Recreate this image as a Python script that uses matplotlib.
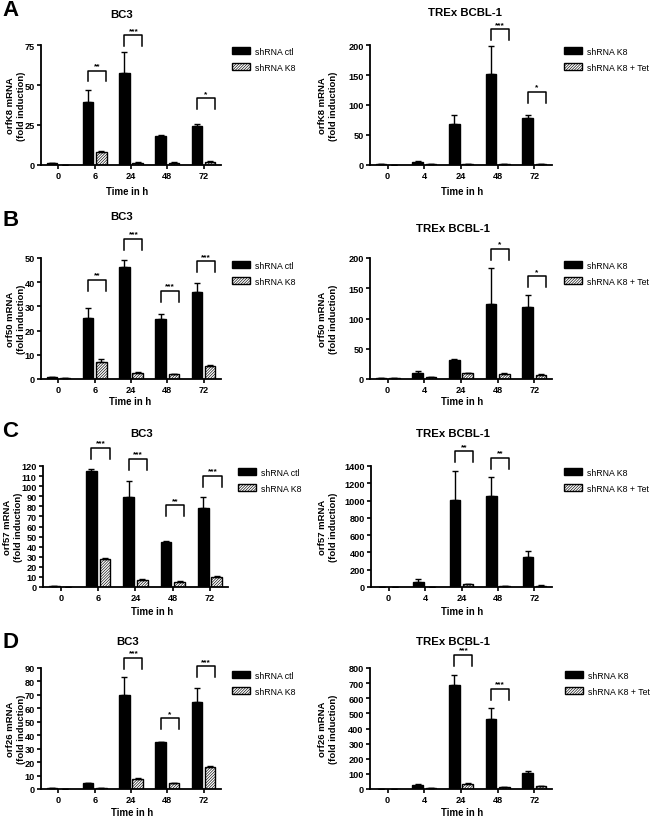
import numpy as np
import matplotlib.pyplot as plt

plt.rcParams['font.family'] = ['Liberation Sans', 'DejaVu Sans']
plt.rcParams['font.weight'] = 'bold'
plt.rcParams['hatch.linewidth'] = 0.45

bc3_times = ['0', '6', '24', '48', '72']
trex_times = ['0', '4', '24', '48', '72']

# A - orfK8
a_bc3_ctl = [1.2, 39.3, 57.3, 18.2, 24.6]
a_bc3_ctl_err = [0, 7.7, 13.5, 0.7, 1.0]
a_bc3_k8 = [0.3, 8.3, 1.5, 1.5, 2.0]
a_bc3_k8_err = [0, 0.4, 0.3, 0.3, 0.3]
a_bc3_sig = [(1, '**', 59), (2, '***', 81), (4, '*', 41.7)]

a_trex_k8 = [1.0, 5.5, 69, 152, 79]
a_trex_k8_err = [0, 0.5, 15, 47, 4]
a_trex_tet = [0.8, 1.0, 1.2, 1.0, 1.0]
a_trex_tet_err = [0, 0, 0, 0, 0]
a_trex_sig = [(3, '***', 226), (4, '*', 122)]

# B - orf50
b_bc3_ctl = [1.0, 25.1, 46.3, 24.6, 35.9]
b_bc3_ctl_err = [0, 4.2, 3.0, 2.4, 3.6]
b_bc3_k8 = [0.5, 7.2, 2.6, 2.0, 5.2]
b_bc3_k8_err = [0, 0.9, 0.3, 0.2, 0.7]
b_bc3_sig = [(1, '**', 41), (2, '***', 57.9), (3, '***', 36.5), (4, '***', 48.6)]

b_trex_k8 = [1.0, 10, 31, 124, 119]
b_trex_k8_err = [0, 4, 2, 59, 20]
b_trex_tet = [1.0, 3, 10, 9, 7]
b_trex_tet_err = [0, 0, 0.5, 0.5, 0.5]
b_trex_sig = [(3, '*', 215), (4, '*', 170)]

# C - orf57
c_bc3_ctl = [1.0, 115, 89, 44.3, 78.7]
c_bc3_ctl_err = [0, 2.4, 16, 1.0, 10.3]
c_bc3_k8 = [0.2, 27.8, 7.3, 5.3, 10]
c_bc3_k8_err = [0, 1.0, 0.6, 0.5, 0.6]
c_bc3_sig = [(1, '***', 138), (2, '***', 127), (3, '**', 81), (4, '***', 110)]

c_trex_k8 = [1, 58, 1008, 1058, 349]
c_trex_k8_err = [0, 32, 334, 214, 62]
c_trex_tet = [1, 5, 35, 10, 15]
c_trex_tet_err = [0, 0, 5, 2, 3]
c_trex_sig = [(2, '**', 1570), (3, '**', 1497)]

# D - orf26
d_bc3_ctl = [1.0, 4.2, 70.1, 34.8, 64.6]
d_bc3_ctl_err = [0, 0.3, 13.2, 0.2, 10.7]
d_bc3_k8 = [0.2, 1.0, 7.5, 4.5, 16.2]
d_bc3_k8_err = [0, 0, 0.7, 0.3, 1.2]
d_bc3_sig = [(2, '***', 97.5), (3, '*', 52.7), (4, '***', 91.2)]

d_trex_k8 = [1, 26, 685, 462, 108]
d_trex_k8_err = [0, 9, 71, 73, 14]
d_trex_tet = [1, 8, 33, 12, 20]
d_trex_tet_err = [0, 0, 9, 2, 3]
d_trex_sig = [(2, '***', 888), (3, '***', 663)]

fig = plt.figure(figsize=(6.56, 8.2), dpi=100)
W, H = 656, 820


def make_axes(x0, x1, ytop, ybot):
    return fig.add_axes([x0 / W, 1 - ybot / H, (x1 - x0) / W, (ybot - ytop) / H])


def panel(ax, times, a, a_err, b, b_err, sig, ymax, ystep, labels):
    x = np.arange(len(times))
    w = 0.29
    ax.bar(x - 0.18, a, w, color='black', edgecolor='black', linewidth=1, label=labels[0])
    ax.bar(x + 0.18, b, w, color='white', edgecolor='black', hatch='/' * 12,
           linewidth=1, label=labels[1])
    ax.errorbar(x - 0.18, a, yerr=[np.zeros(len(a)), a_err], fmt='none', ecolor='black',
                elinewidth=1, capsize=2.3, capthick=1)
    ax.errorbar(x + 0.18, b, yerr=[np.zeros(len(b)), b_err], fmt='none', ecolor='black',
                elinewidth=1, capsize=2.3, capthick=1)
    ax.set_xlim(-0.48, 4.48)
    ax.set_ylim(0, ymax)
    ax.set_yticks(np.arange(0, ymax + ystep / 2, ystep))
    ax.set_xticks(x)
    ax.set_xticklabels(times)
    ax.tick_params(labelsize=6.6, width=1.2, length=3, pad=1.5)
    for s in ['top', 'right']:
        ax.spines[s].set_visible(False)
    for s in ['left', 'bottom']:
        ax.spines[s].set_linewidth(1.3)
    leg_h = 0.09 * ymax
    for i, txt, top in sig:
        ax.plot([i - 0.18, i - 0.18, i + 0.31, i + 0.31], [top - leg_h, top, top, top - leg_h],
                color='black', lw=1.1, clip_on=False)
        ax.annotate(txt, (i + 0.065, top), xytext=(0, 1), textcoords='offset points',
                    ha='center', va='bottom', fontsize=6, annotation_clip=False)


left_lab = ['shRNA ctl', 'shRNA K8']
right_lab = ['shRNA K8', 'shRNA K8 + Tet']

rows = [
    ('A', 46, 166, 41, 221, 370, 552,
     (a_bc3_ctl, a_bc3_ctl_err, a_bc3_k8, a_bc3_k8_err, a_bc3_sig, 75, 25),
     (a_trex_k8, a_trex_k8_err, a_trex_tet, a_trex_tet_err, a_trex_sig, 200, 50),
     'orfK8 mRNA\n(fold induction)'),
    ('B', 259, 380, 41, 221, 370, 552,
     (b_bc3_ctl, b_bc3_ctl_err, b_bc3_k8, b_bc3_k8_err, b_bc3_sig, 50, 10),
     (b_trex_k8, b_trex_k8_err, b_trex_tet, b_trex_tet_err, b_trex_sig, 200, 50),
     'orf50 mRNA\n(fold induction)'),
    ('C', 467, 588, 43, 228, 371, 552,
     (c_bc3_ctl, c_bc3_ctl_err, c_bc3_k8, c_bc3_k8_err, c_bc3_sig, 120, 10),
     (c_trex_k8, c_trex_k8_err, c_trex_tet, c_trex_tet_err, c_trex_sig, 1400, 200),
     'orf57 mRNA\n(fold induction)'),
    ('D', 669, 790, 41, 221, 370, 552,
     (d_bc3_ctl, d_bc3_ctl_err, d_bc3_k8, d_bc3_k8_err, d_bc3_sig, 90, 10),
     (d_trex_k8, d_trex_k8_err, d_trex_tet, d_trex_tet_err, d_trex_sig, 800, 100),
     'orf26 mRNA\n(fold induction)'),
]

letter_y = [10, 220, 432, 642]
title_left = [(122, 15), (122, 217), (142, 434), (128, 642)]
title_right = [(465, 13), (453, 229), (453, 434), (453, 642)]
xlab_y = [192, 402, 612, 813]
xlab_left_x = [127, 130, 152, 132]
ylab_left_x = [16, 16, 13, 16]
ylab_right_x = 328
leg_left = [(232, 48), (232, 262), (238, 469), (232, 672)]
leg_right = [(564, 48), (564, 262), (564, 469), (565, 672)]

for k, (let, yt, yb, lx0, lx1, rx0, rx1, dl, dr, ylab) in enumerate(rows):
    axl = make_axes(lx0, lx1, yt, yb)
    axr = make_axes(rx0, rx1, yt, yb)
    panel(axl, bc3_times, *dl[:5], dl[5], dl[6], left_lab)
    panel(axr, trex_times, *dr[:5], dr[5], dr[6], right_lab)
    ymid = 1 - (yt + yb) / 2 / H
    fig.text(ylab_left_x[k] / W, ymid, ylab, rotation=90, fontsize=6.8, ha='center',
             va='center', linespacing=1.15, multialignment='center')
    fig.text(ylab_right_x / W, ymid, ylab, rotation=90, fontsize=6.8, ha='center',
             va='center', linespacing=1.15, multialignment='center')
    fig.text(2 / W, 1 - letter_y[k] / H, let, fontsize=16, fontweight='bold', va='center')
    fig.text(title_left[k][0] / W, 1 - title_left[k][1] / H, 'BC3', fontsize=8.2,
             ha='center', va='center')
    fig.text(title_right[k][0] / W, 1 - title_right[k][1] / H, 'TREx BCBL-1', fontsize=8.2,
             ha='center', va='center')
    fig.text(xlab_left_x[k] / W, 1 - xlab_y[k] / H, 'Time in h', fontsize=6.9,
             ha='center', va='center')
    fig.text(462 / W, 1 - xlab_y[k] / H, 'Time in h', fontsize=6.9, ha='center', va='center')
    for ax, pos in ((axl, leg_left[k]), (axr, leg_right[k])):
        ax.legend(loc='upper left', bbox_to_anchor=(pos[0] / W, 1 - pos[1] / H),
                  bbox_transform=fig.transFigure, frameon=False,
                  handlelength=2.0, handleheight=0.85, handletextpad=0.65,
                  labelspacing=0.75, borderpad=0, borderaxespad=0,
                  prop={'weight': 'normal', 'size': 6.3})

fig.savefig('out.png', dpi=100)
